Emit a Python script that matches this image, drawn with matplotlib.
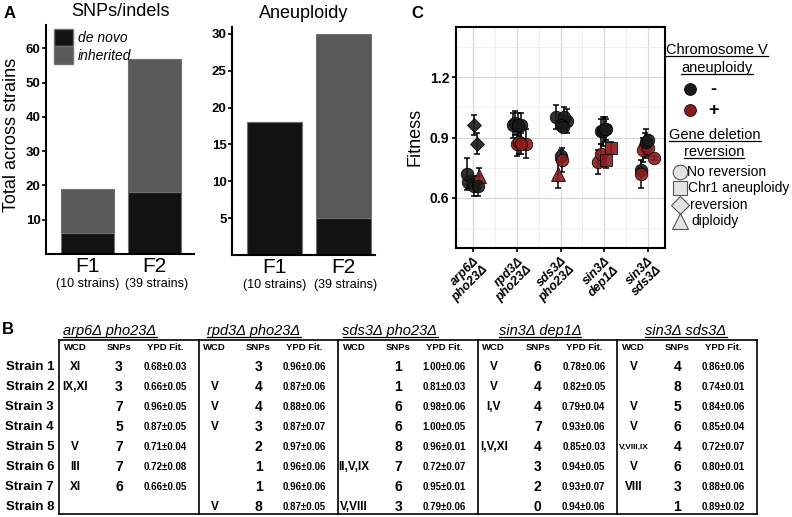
import numpy as np
import matplotlib
matplotlib.use('Agg')
import matplotlib.pyplot as plt
from matplotlib.patches import Patch

plt.rcParams['font.family'] = ['Liberation Sans', 'DejaVu Sans']

#%% data
gens = ['F1', 'F2']
gen_counts = ['(10 strains)', '(39 strains)']
snp_denovo = [6, 18]
snp_total = [19, 57]
aneu_denovo = [18, 5]
aneu_total = [18, 30]

pairs = ['arp6Δ pho23Δ', 'rpd3Δ pho23Δ', 'sds3Δ pho23Δ', 'sin3Δ dep1Δ', 'sin3Δ sds3Δ']
strains = ['Strain %d' % i for i in range(1, 9)]
table_cols = ['WCD', 'SNPs', 'YPD Fit.']

nan = np.nan
arp6_wcd = ['XI', 'IX,XI', '', '', 'V', 'III', 'XI', '']
arp6_snps = [3, 3, 7, 5, 7, 7, 6, None]
arp6_fit = [0.68, 0.66, 0.96, 0.87, 0.71, 0.72, 0.66, nan]
arp6_sd = [0.03, 0.05, 0.05, 0.05, 0.04, 0.08, 0.05, nan]
arp6_rev = ['none', 'none', 'rev', 'rev', 'dip', 'none', 'none', 'none']

rpd3_wcd = ['', 'V', 'V', 'V', '', '', '', 'V']
rpd3_snps = [3, 4, 4, 3, 2, 1, 1, 8]
rpd3_fit = [0.96, 0.87, 0.88, 0.87, 0.97, 0.96, 0.96, 0.87]
rpd3_sd = [0.06, 0.06, 0.06, 0.07, 0.06, 0.06, 0.06, 0.05]
rpd3_rev = ['none'] * 8

sds3_wcd = ['', '', '', '', '', 'II,V,IX', '', 'V,VIII']
sds3_snps = [1, 1, 6, 6, 8, 7, 6, 3]
sds3_fit = [1.00, 0.81, 0.98, 1.00, 0.96, 0.72, 0.95, 0.79]
sds3_sd = [0.06, 0.03, 0.06, 0.05, 0.01, 0.07, 0.01, 0.06]
sds3_rev = ['none', 'none', 'none', 'none', 'none', 'dip', 'none', 'none']

sin3dep1_wcd = ['V', 'V', 'I,V', '', 'I,V,XI', '', '', '']
sin3dep1_snps = [6, 4, 4, 7, 4, 3, 2, 0]
sin3dep1_fit = [0.78, 0.82, 0.79, 0.93, 0.85, 0.94, 0.93, 0.94]
sin3dep1_sd = [0.06, 0.05, 0.04, 0.06, 0.03, 0.05, 0.07, 0.06]
sin3dep1_rev = ['none', 'none', 'chr1', 'none', 'chr1', 'none', 'none', 'none']

sin3sds3_wcd = ['V', '', 'V', 'V', 'V,VIII,IX', 'V', 'VIII', '']
sin3sds3_snps = [4, 8, 5, 6, 4, 6, 3, 1]
sin3sds3_fit = [0.86, 0.74, 0.84, 0.85, 0.72, 0.80, 0.88, 0.89]
sin3sds3_sd = [0.06, 0.01, 0.06, 0.04, 0.07, 0.01, 0.06, 0.02]
sin3sds3_rev = ['none'] * 8

wcd = [arp6_wcd, rpd3_wcd, sds3_wcd, sin3dep1_wcd, sin3sds3_wcd]
snps = [arp6_snps, rpd3_snps, sds3_snps, sin3dep1_snps, sin3sds3_snps]
fit = [arp6_fit, rpd3_fit, sds3_fit, sin3dep1_fit, sin3sds3_fit]
sd = [arp6_sd, rpd3_sd, sds3_sd, sin3dep1_sd, sin3sds3_sd]
rev = [arp6_rev, rpd3_rev, sds3_rev, sin3dep1_rev, sin3sds3_rev]

# horizontal jitter of the points in panel C
jitter = [[-0.12, 0.02, 0.02, 0.09, 0.12, -0.15, 0.10, 0.0],
          [-0.10, 0.00, 0.05, 0.20, -0.05, 0.10, 0.03, 0.10],
          [-0.11, 0.00, 0.16, 0.09, 0.00, -0.05, 0.05, 0.04],
          [-0.14, -0.07, 0.05, -0.08, 0.17, 0.05, -0.03, 0.02],
          [-0.05, -0.15, -0.10, 0.00, -0.16, 0.15, -0.03, 0.02]]

#%% style
W, H = 792, 517
c_denovo = '#121212'
c_inh = '#595959'
c_red = '#8c1c1c'
c_blk = '#1a1a1a'
markers = {'none': 'o', 'chr1': 's', 'rev': 'D', 'dip': '^'}
msizes = {'none': 9, 'chr1': 8, 'rev': 7.5, 'dip': 9.5}


def box(x0, y0, x1, y1):
    return [x0 / W, 1 - y1 / H, (x1 - x0) / W, (y1 - y0) / H]


fig = plt.figure(figsize=(W / 100, H / 100), dpi=100)
ov = fig.add_axes([0, 0, 1, 1])
ov.set_xlim(0, W)
ov.set_ylim(H, 0)
ov.axis('off')


def bar_panel(rect, denovo, total, ylim, xlim, ticks, title, title_y):
    ax = fig.add_axes(box(*rect))
    x = np.arange(1, len(gens) + 1)
    inh = np.subtract(total, denovo)
    ax.bar(x, denovo, width=0.8, color=c_denovo, edgecolor='#707070', lw=0.8)
    ax.bar(x, inh, bottom=denovo, width=0.8, color=c_inh, edgecolor='#707070', lw=0.8)
    ax.set_ylim(*ylim)
    ax.set_xlim(*xlim)
    ax.set_yticks(ticks)
    ax.set_yticklabels([str(t) for t in ticks], fontweight='bold', fontsize=9.5)
    ax.set_xticks(x)
    ax.set_xticklabels(gens, fontsize=15)
    ax.tick_params(axis='x', length=0, pad=2)
    ax.tick_params(axis='y', length=3, width=1.2, pad=1)
    for s in ['top', 'right']:
        ax.spines[s].set_visible(False)
    for s in ['left', 'bottom']:
        ax.spines[s].set_linewidth(1.5)
    for xi, lab in zip(x, gen_counts):
        ax.text(xi + 0.04 * (xi - 1), -0.13, lab, transform=ax.get_xaxis_transform(),
                ha='center', va='center', fontsize=9)
    ax.text(0.5, title_y, title, transform=ax.transAxes, ha='center',
            va='center', fontsize=13)
    return ax


ax1 = bar_panel((46, 25, 194, 254), snp_denovo, snp_total, (0, 66.8),
                (0.37, 2.6), [10, 20, 30, 40, 50, 60], 'SNPs/indels', 1.057)
ax2 = bar_panel((232, 27, 375, 255), aneu_denovo, aneu_total, (0, 30.95),
                (0.39, 2.46), [5, 10, 15, 20, 25, 30], 'Aneuploidy', 1.06)
ax1.legend(handles=[Patch(fc=c_denovo, ec='#707070'), Patch(fc=c_inh, ec='#707070')],
           labels=['de novo', 'inherited'], loc='upper left',
           bbox_to_anchor=(0.035, 0.995), frameon=False,
           prop={'style': 'italic', 'size': 10}, handlelength=1.4,
           handleheight=1.55, labelspacing=0.0, handletextpad=0.3,
           borderpad=0.2, borderaxespad=0)
ov.text(12, 135, 'Total across strains', rotation=90, ha='center',
        va='center', fontsize=13)

#%% panel C
axc = fig.add_axes(box(456, 27, 665, 248))
for g in range(len(pairs)):
    for i in range(len(strains)):
        f = fit[g][i]
        if np.isnan(f):
            continue
        xv = g + 1 + jitter[g][i]
        col = c_red if 'V' in wcd[g][i].split(',') else c_blk
        axc.errorbar(xv, f, yerr=sd[g][i], fmt='none', ecolor='black',
                     elinewidth=1.1, capsize=2.5, capthick=1.1, zorder=2)
        axc.plot(xv, f, ls='', marker=markers[rev[g][i]], ms=msizes[rev[g][i]],
                 mfc=col, mec='black', mew=0.6, alpha=0.9, zorder=3)
axc.set_xlim(0.6, len(pairs) + 0.4)
axc.set_ylim(0.35, 1.45)
axc.set_yticks([0.6, 0.9, 1.2])
axc.set_yticklabels(['0.6', '0.9', '1.2'], fontweight='bold', fontsize=10)
axc.set_yticks([0.45, 0.75, 1.05, 1.35], minor=True)
axc.set_xticks(np.arange(1, len(pairs) + 1))
axc.set_xticks(np.arange(1.5, len(pairs)), minor=True)
axc.set_xticklabels([p.replace(' ', '\n') for p in pairs], rotation=45,
                    ha='right', rotation_mode='anchor', fontweight='bold',
                    fontstyle='italic', fontsize=9, multialignment='right',
                    linespacing=1.0)
axc.tick_params(which='major', length=3, width=1.2, pad=2)
axc.tick_params(which='minor', length=0)
axc.grid(which='major', color='#d9d9d9', lw=0.9)
axc.grid(which='minor', color='#ececec', lw=0.6)
axc.set_axisbelow(True)
for s in axc.spines.values():
    s.set_linewidth(1.5)
ov.text(415, 137, 'Fitness', rotation=90, ha='center', va='center', fontsize=13)

# legend C
under = []
under.append(ov.text(717, 50, 'Chromosome V', ha='center', va='center', fontsize=10.5))
under.append(ov.text(717, 68, 'aneuploidy', ha='center', va='center', fontsize=10.5))
ov.plot(690, 89, 'o', ms=8.5, mfc=c_blk, mec='black', mew=0.6)
ov.plot(690, 110, 'o', ms=8.5, mfc=c_red, mec='black', mew=0.6)
ov.text(710, 89, '-', ha='left', va='center', fontsize=13, fontweight='bold')
ov.text(708, 111, '+', ha='left', va='center', fontsize=13, fontweight='bold')
under.append(ov.text(715, 135, 'Gene deletion', ha='center', va='center', fontsize=10.5))
under.append(ov.text(714, 152, 'reversion', ha='center', va='center', fontsize=10.5))
leg_labels = ['No reversion', 'Chr1 aneuploidy', 'reversion', 'diploidy']
for k, (key, lab) in enumerate(zip(['none', 'chr1', 'rev', 'dip'], leg_labels)):
    yk = 172 + 16.3 * k
    ov.plot(680, yk, markers[key], ms=msizes[key] + 1.5, mfc='#e4e4e4',
            mec='#555555', mew=0.8)
    ov.text(687 + 1.5 * k, yk, lab, ha='left', va='center', fontsize=10)

#%% panel B table
blk_x0, blk_w = 59, 139.6
col_off = [16, 60, 106]
row_y0, row_h = 347, 20
hdr_x = [110, 254, 390, 540, 686]
top, bot = 340, 514
ov.plot([blk_x0, blk_x0 + 5 * blk_w], [top, top], color='black', lw=1.2)
ov.plot([blk_x0, blk_x0 + 5 * blk_w], [bot, bot], color='black', lw=1.2)
for b in range(len(pairs) + 1):
    xb = blk_x0 + b * blk_w
    ov.plot([xb, xb], [top, bot], color='black', lw=1.2)
for b, name in enumerate(pairs):
    x0 = blk_x0 + b * blk_w
    under.append(ov.text(hdr_x[b], 331, name, ha='center', va='center',
                         fontsize=10.5, fontstyle='italic'))
    for c, cname in enumerate(table_cols):
        ov.text(x0 + col_off[c], row_y0, cname, ha='center', va='center',
                fontsize=6.8, fontweight='bold')
    for i in range(len(strains)):
        yr = row_y0 + row_h * (i + 1)
        w = wcd[b][i]
        ov.text(x0 + col_off[0], yr, w, ha='center', va='center',
                fontsize=8.5 if len(w) < 9 else 6, fontweight='bold')
        if snps[b][i] is not None:
            ov.text(x0 + col_off[1], yr, str(snps[b][i]), ha='center',
                    va='center', fontsize=10, fontweight='bold')
        if not np.isnan(fit[b][i]):
            ov.text(x0 + col_off[2], yr, '%.2f±%.2f' % (fit[b][i], sd[b][i]),
                    ha='center', va='center', fontsize=7, fontweight='bold')
for i, s in enumerate(strains):
    ov.text(54, row_y0 + row_h * (i + 1), s, ha='right', va='center',
            fontsize=9.5, fontweight='bold')

# panel letters
ov.text(10, 14, 'A', ha='center', va='center', fontsize=12, fontweight='bold')
ov.text(8, 329, 'B', ha='center', va='center', fontsize=12, fontweight='bold')
ov.text(417, 13, 'C', ha='center', va='center', fontsize=12, fontweight='bold')

# underline titles
fig.canvas.draw()
for t in under:
    bb = t.get_window_extent()
    yl = H - bb.y0 - 1
    ov.plot([bb.x0, bb.x1], [yl, yl], color='black', lw=0.9)

fig.savefig('out.png', dpi=100)
